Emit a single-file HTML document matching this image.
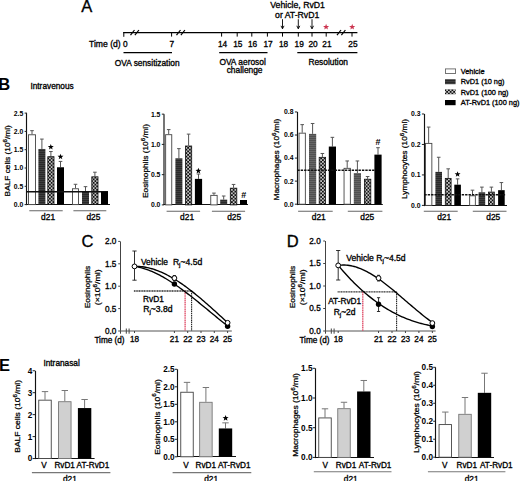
<!DOCTYPE html>
<html><head><meta charset="utf-8"><style>
html,body{margin:0;padding:0;background:#fff;}
svg{display:block;font-family:"Liberation Sans", sans-serif;}
</style></head><body>
<svg width="520" height="481" viewBox="0 0 520 481">
<defs>
<pattern id="hatch" width="4" height="2" patternUnits="userSpaceOnUse"><rect width="4" height="2" fill="#2a2a2a"/><rect y="1" width="4" height="0.9" fill="#424242"/></pattern>
<pattern id="check" width="3.5" height="3.5" patternUnits="userSpaceOnUse"><rect width="3.5" height="3.5" fill="#111"/><rect x="0.1" y="0.1" width="1.55" height="1.55" fill="#f0f0f0"/><rect x="1.85" y="1.85" width="1.55" height="1.55" fill="#f0f0f0"/></pattern>
<pattern id="hatch2" width="4" height="2" patternUnits="userSpaceOnUse"><rect width="4" height="2" fill="#505050"/><rect y="1" width="4" height="0.9" fill="#686868"/></pattern>
</defs>
<rect width="520" height="481" fill="#fff"/>
<text x="81.30" y="11.80" font-size="16.5" text-anchor="start" stroke="#000" stroke-width="0.32" fill="#000">A</text>
<line x1="123.30" y1="32.60" x2="357.40" y2="32.60" stroke="#000" stroke-width="1.2" stroke-linecap="butt"/>
<line x1="123.80" y1="32.00" x2="123.80" y2="36.80" stroke="#000" stroke-width="1.0" stroke-linecap="butt"/>
<line x1="171.60" y1="32.60" x2="171.60" y2="36.60" stroke="#000" stroke-width="1.0" stroke-linecap="butt"/>
<line x1="221.60" y1="32.60" x2="221.60" y2="36.60" stroke="#000" stroke-width="1.0" stroke-linecap="butt"/>
<line x1="237.20" y1="32.60" x2="237.20" y2="36.60" stroke="#000" stroke-width="1.0" stroke-linecap="butt"/>
<line x1="251.80" y1="32.60" x2="251.80" y2="36.60" stroke="#000" stroke-width="1.0" stroke-linecap="butt"/>
<line x1="267.40" y1="32.60" x2="267.40" y2="36.60" stroke="#000" stroke-width="1.0" stroke-linecap="butt"/>
<line x1="282.50" y1="32.60" x2="282.50" y2="36.60" stroke="#000" stroke-width="1.0" stroke-linecap="butt"/>
<line x1="298.30" y1="32.60" x2="298.30" y2="36.60" stroke="#000" stroke-width="1.0" stroke-linecap="butt"/>
<line x1="312.00" y1="32.60" x2="312.00" y2="36.60" stroke="#000" stroke-width="1.0" stroke-linecap="butt"/>
<line x1="326.20" y1="32.60" x2="326.20" y2="36.60" stroke="#000" stroke-width="1.0" stroke-linecap="butt"/>
<line x1="352.00" y1="32.60" x2="352.00" y2="36.60" stroke="#000" stroke-width="1.0" stroke-linecap="butt"/>
<line x1="130.50" y1="35.20" x2="134.50" y2="30.00" stroke="#000" stroke-width="1.2" stroke-linecap="butt"/>
<line x1="134.90" y1="35.20" x2="138.90" y2="30.00" stroke="#000" stroke-width="1.2" stroke-linecap="butt"/>
<line x1="176.50" y1="35.20" x2="180.50" y2="30.00" stroke="#000" stroke-width="1.2" stroke-linecap="butt"/>
<line x1="180.90" y1="35.20" x2="184.90" y2="30.00" stroke="#000" stroke-width="1.2" stroke-linecap="butt"/>
<line x1="337.00" y1="35.20" x2="341.00" y2="30.00" stroke="#000" stroke-width="1.2" stroke-linecap="butt"/>
<line x1="341.40" y1="35.20" x2="345.40" y2="30.00" stroke="#000" stroke-width="1.2" stroke-linecap="butt"/>
<text x="89.00" y="46.80" font-size="8.6" text-anchor="start" stroke="#000" stroke-width="0.32" fill="#000">Time (d)</text>
<text x="125.20" y="46.90" font-size="8.3" text-anchor="middle" stroke="#000" stroke-width="0.32" fill="#000">0</text>
<text x="171.80" y="46.90" font-size="8.3" text-anchor="middle" stroke="#000" stroke-width="0.32" fill="#000">7</text>
<text x="222.60" y="46.90" font-size="8.3" text-anchor="middle" stroke="#000" stroke-width="0.32" fill="#000">14</text>
<text x="237.80" y="46.90" font-size="8.3" text-anchor="middle" stroke="#000" stroke-width="0.32" fill="#000">15</text>
<text x="252.60" y="46.90" font-size="8.3" text-anchor="middle" stroke="#000" stroke-width="0.32" fill="#000">16</text>
<text x="268.00" y="46.90" font-size="8.3" text-anchor="middle" stroke="#000" stroke-width="0.32" fill="#000">17</text>
<text x="283.60" y="46.90" font-size="8.3" text-anchor="middle" stroke="#000" stroke-width="0.32" fill="#000">18</text>
<text x="299.20" y="46.90" font-size="8.3" text-anchor="middle" stroke="#000" stroke-width="0.32" fill="#000">19</text>
<text x="313.00" y="46.90" font-size="8.3" text-anchor="middle" stroke="#000" stroke-width="0.32" fill="#000">20</text>
<text x="326.90" y="46.90" font-size="8.3" text-anchor="middle" stroke="#000" stroke-width="0.32" fill="#000">21</text>
<text x="352.90" y="46.90" font-size="8.3" text-anchor="middle" stroke="#000" stroke-width="0.32" fill="#000">25</text>
<line x1="123.50" y1="52.70" x2="172.00" y2="52.70" stroke="#000" stroke-width="1.3" stroke-linecap="butt"/>
<line x1="219.20" y1="52.70" x2="267.50" y2="52.70" stroke="#000" stroke-width="1.3" stroke-linecap="butt"/>
<line x1="297.30" y1="52.70" x2="357.40" y2="52.70" stroke="#000" stroke-width="1.3" stroke-linecap="butt"/>
<text x="147.20" y="65.90" font-size="8.35" text-anchor="middle" stroke="#000" stroke-width="0.32" fill="#000">OVA sensitization</text>
<text x="242.60" y="65.40" font-size="8.4" text-anchor="middle" stroke="#000" stroke-width="0.32" fill="#000">OVA aerosol</text>
<text x="244.60" y="72.60" font-size="8.4" text-anchor="middle" stroke="#000" stroke-width="0.32" fill="#000">challenge</text>
<text x="328.20" y="64.90" font-size="8.4" text-anchor="middle" stroke="#000" stroke-width="0.32" fill="#000">Resolution</text>
<text x="297.60" y="7.70" font-size="8.7" text-anchor="middle" stroke="#000" stroke-width="0.32" fill="#000">Vehicle, RvD1</text>
<text x="297.20" y="17.80" font-size="8.7" text-anchor="middle" stroke="#000" stroke-width="0.32" fill="#000">or AT-RvD1</text>
<line x1="282.50" y1="19.20" x2="282.50" y2="28.60" stroke="#000" stroke-width="0.9" stroke-linecap="butt"/>
<polyline points="281.00,25.8 282.50,28.8 284.00,25.8" fill="none" stroke="#000" stroke-width="0.9"/>
<line x1="298.30" y1="19.20" x2="298.30" y2="28.60" stroke="#000" stroke-width="0.9" stroke-linecap="butt"/>
<polyline points="296.80,25.8 298.30,28.8 299.80,25.8" fill="none" stroke="#000" stroke-width="0.9"/>
<line x1="312.00" y1="19.20" x2="312.00" y2="28.60" stroke="#000" stroke-width="0.9" stroke-linecap="butt"/>
<polyline points="310.50,25.8 312.00,28.8 313.50,25.8" fill="none" stroke="#000" stroke-width="0.9"/>
<polygon points="326.10,23.80 326.89,25.91 329.14,26.01 327.38,27.42 327.98,29.59 326.10,28.34 324.22,29.59 324.82,27.42 323.06,26.01 325.31,25.91" fill="#cc3550"/>
<polygon points="352.20,23.80 352.99,25.91 355.24,26.01 353.48,27.42 354.08,29.59 352.20,28.34 350.32,29.59 350.92,27.42 349.16,26.01 351.41,25.91" fill="#cc3550"/>
<text x="-1.70" y="90.00" font-size="16.5" text-anchor="start" font-weight="bold" fill="#000">B</text>
<text x="30.40" y="89.20" font-size="8.3" text-anchor="start" stroke="#000" stroke-width="0.32" fill="#000">Intravenous</text>
<rect x="445.45" y="68.90" width="10.10" height="4.60" fill="#fff" stroke="#666" stroke-width="0.9"/>
<rect x="445.00" y="79.20" width="10.60" height="5.00" fill="url(#hatch)" stroke="none" stroke-width="0"/>
<rect x="445.00" y="89.30" width="10.60" height="5.00" fill="url(#check)" stroke="none" stroke-width="0"/>
<rect x="445.00" y="100.00" width="10.60" height="5.20" fill="#000" stroke="none" stroke-width="0"/>
<text x="460.80" y="73.90" font-size="7.35" text-anchor="start" stroke="#000" stroke-width="0.32" fill="#000">Vehicle</text>
<text x="460.80" y="84.40" font-size="7.35" text-anchor="start" stroke="#000" stroke-width="0.32" fill="#000">RvD1 (10 ng)</text>
<text x="460.80" y="94.60" font-size="7.35" text-anchor="start" stroke="#000" stroke-width="0.32" fill="#000">RvD1 (100 ng)</text>
<text x="460.80" y="105.20" font-size="7.35" text-anchor="start" stroke="#000" stroke-width="0.32" fill="#000">AT-RvD1 (100 ng)</text>
<line x1="26.50" y1="113.10" x2="26.50" y2="205.10" stroke="#111" stroke-width="1.15" stroke-linecap="butt"/>
<line x1="26.00" y1="204.50" x2="110.00" y2="204.50" stroke="#111" stroke-width="1.15" stroke-linecap="butt"/>
<line x1="24.60" y1="204.60" x2="27.00" y2="204.60" stroke="#222" stroke-width="1.0" stroke-linecap="butt"/>
<text x="23.20" y="207.00" font-size="6.8" text-anchor="end" font-weight="bold" fill="#000">0.0</text>
<line x1="24.60" y1="186.30" x2="27.00" y2="186.30" stroke="#222" stroke-width="1.0" stroke-linecap="butt"/>
<text x="23.20" y="188.70" font-size="6.8" text-anchor="end" font-weight="bold" fill="#000">0.5</text>
<line x1="24.60" y1="168.00" x2="27.00" y2="168.00" stroke="#222" stroke-width="1.0" stroke-linecap="butt"/>
<text x="23.20" y="170.40" font-size="6.8" text-anchor="end" font-weight="bold" fill="#000">1.0</text>
<line x1="24.60" y1="149.70" x2="27.00" y2="149.70" stroke="#222" stroke-width="1.0" stroke-linecap="butt"/>
<text x="23.20" y="152.10" font-size="6.8" text-anchor="end" font-weight="bold" fill="#000">1.5</text>
<line x1="24.60" y1="131.40" x2="27.00" y2="131.40" stroke="#222" stroke-width="1.0" stroke-linecap="butt"/>
<text x="23.20" y="133.80" font-size="6.8" text-anchor="end" font-weight="bold" fill="#000">2.0</text>
<line x1="24.60" y1="113.10" x2="27.00" y2="113.10" stroke="#222" stroke-width="1.0" stroke-linecap="butt"/>
<text x="23.20" y="115.50" font-size="6.8" text-anchor="end" font-weight="bold" fill="#000">2.5</text>
<line x1="32.00" y1="134.33" x2="32.00" y2="130.67" stroke="#555" stroke-width="1.0" stroke-linecap="butt"/>
<line x1="30.20" y1="130.67" x2="33.80" y2="130.67" stroke="#555" stroke-width="1.0" stroke-linecap="butt"/>
<rect x="28.50" y="134.78" width="7.00" height="69.82" fill="#fff" stroke="#444" stroke-width="0.9"/>
<line x1="41.90" y1="148.97" x2="41.90" y2="139.09" stroke="#555" stroke-width="1.0" stroke-linecap="butt"/>
<line x1="40.10" y1="139.09" x2="43.70" y2="139.09" stroke="#555" stroke-width="1.0" stroke-linecap="butt"/>
<rect x="38.40" y="148.97" width="7.00" height="55.63" fill="url(#hatch)" stroke="none" stroke-width="0"/>
<line x1="50.90" y1="156.29" x2="50.90" y2="151.53" stroke="#555" stroke-width="1.0" stroke-linecap="butt"/>
<line x1="49.10" y1="151.53" x2="52.70" y2="151.53" stroke="#555" stroke-width="1.0" stroke-linecap="butt"/>
<rect x="47.80" y="156.69" width="6.20" height="47.91" fill="url(#check)" stroke="#111" stroke-width="0.8"/>
<line x1="60.50" y1="167.27" x2="60.50" y2="161.41" stroke="#555" stroke-width="1.0" stroke-linecap="butt"/>
<line x1="58.70" y1="161.41" x2="62.30" y2="161.41" stroke="#555" stroke-width="1.0" stroke-linecap="butt"/>
<rect x="57.00" y="167.27" width="7.00" height="37.33" fill="#000" stroke="none" stroke-width="0"/>
<line x1="75.50" y1="188.31" x2="75.50" y2="184.29" stroke="#555" stroke-width="1.0" stroke-linecap="butt"/>
<line x1="73.70" y1="184.29" x2="77.30" y2="184.29" stroke="#555" stroke-width="1.0" stroke-linecap="butt"/>
<rect x="72.45" y="188.76" width="6.10" height="15.84" fill="#fff" stroke="#444" stroke-width="0.9"/>
<line x1="85.50" y1="191.79" x2="85.50" y2="186.67" stroke="#555" stroke-width="1.0" stroke-linecap="butt"/>
<line x1="83.70" y1="186.67" x2="87.30" y2="186.67" stroke="#555" stroke-width="1.0" stroke-linecap="butt"/>
<rect x="82.00" y="191.79" width="7.00" height="12.81" fill="url(#hatch)" stroke="none" stroke-width="0"/>
<line x1="94.90" y1="176.42" x2="94.90" y2="172.21" stroke="#555" stroke-width="1.0" stroke-linecap="butt"/>
<line x1="93.10" y1="172.21" x2="96.70" y2="172.21" stroke="#555" stroke-width="1.0" stroke-linecap="butt"/>
<rect x="91.80" y="176.82" width="6.20" height="27.78" fill="url(#check)" stroke="#111" stroke-width="0.8"/>
<rect x="101.00" y="191.06" width="7.00" height="13.54" fill="#000" stroke="none" stroke-width="0"/>
<line x1="27.00" y1="191.79" x2="101.00" y2="191.79" stroke="#111" stroke-width="1.4" stroke-linecap="butt"/>
<line x1="29.30" y1="210.80" x2="62.70" y2="210.80" stroke="#666" stroke-width="1.1" stroke-linecap="butt"/>
<text x="48.10" y="219.60" font-size="8.4" text-anchor="middle" stroke="#000" stroke-width="0.32" fill="#000">d21</text>
<line x1="73.40" y1="210.80" x2="106.30" y2="210.80" stroke="#666" stroke-width="1.1" stroke-linecap="butt"/>
<text x="93.40" y="219.60" font-size="8.4" text-anchor="middle" stroke="#000" stroke-width="0.32" fill="#000">d25</text>
<polygon points="50.80,143.90 51.57,145.95 53.75,146.04 52.04,147.40 52.62,149.51 50.80,148.30 48.98,149.51 49.56,147.40 47.85,146.04 50.03,145.95" fill="#000"/>
<polygon points="60.50,153.70 61.27,155.75 63.45,155.84 61.74,157.20 62.32,159.31 60.50,158.10 58.68,159.31 59.26,157.20 57.55,155.84 59.73,155.75" fill="#000"/>
<text x="0" y="0" font-size="8.3" text-anchor="middle" stroke="#000" stroke-width="0.28" transform="translate(9.50 160.80) rotate(-90) scale(1 0.86)">BALF cells (10<tspan font-size="6.14" dy="-3.49">6</tspan><tspan dy="3.49">/ml)</tspan></text>
<line x1="164.00" y1="114.15" x2="164.00" y2="205.10" stroke="#111" stroke-width="1.15" stroke-linecap="butt"/>
<line x1="163.50" y1="204.50" x2="248.00" y2="204.50" stroke="#111" stroke-width="1.15" stroke-linecap="butt"/>
<line x1="161.80" y1="204.90" x2="164.20" y2="204.90" stroke="#222" stroke-width="1.0" stroke-linecap="butt"/>
<text x="160.40" y="207.30" font-size="6.8" text-anchor="end" font-weight="bold" fill="#000">0.0</text>
<line x1="161.80" y1="174.65" x2="164.20" y2="174.65" stroke="#222" stroke-width="1.0" stroke-linecap="butt"/>
<text x="160.40" y="177.05" font-size="6.8" text-anchor="end" font-weight="bold" fill="#000">0.5</text>
<line x1="161.80" y1="144.40" x2="164.20" y2="144.40" stroke="#222" stroke-width="1.0" stroke-linecap="butt"/>
<text x="160.40" y="146.80" font-size="6.8" text-anchor="end" font-weight="bold" fill="#000">1.0</text>
<line x1="161.80" y1="114.15" x2="164.20" y2="114.15" stroke="#222" stroke-width="1.0" stroke-linecap="butt"/>
<text x="160.40" y="116.55" font-size="6.8" text-anchor="end" font-weight="bold" fill="#000">1.5</text>
<line x1="168.70" y1="134.24" x2="168.70" y2="129.58" stroke="#555" stroke-width="1.0" stroke-linecap="butt"/>
<line x1="166.90" y1="129.58" x2="170.50" y2="129.58" stroke="#555" stroke-width="1.0" stroke-linecap="butt"/>
<rect x="165.65" y="134.69" width="6.10" height="70.21" fill="#fff" stroke="#444" stroke-width="0.9"/>
<line x1="178.90" y1="158.31" x2="178.90" y2="148.63" stroke="#555" stroke-width="1.0" stroke-linecap="butt"/>
<line x1="177.10" y1="148.63" x2="180.70" y2="148.63" stroke="#555" stroke-width="1.0" stroke-linecap="butt"/>
<rect x="175.40" y="158.31" width="7.00" height="46.59" fill="url(#hatch)" stroke="none" stroke-width="0"/>
<line x1="188.60" y1="145.61" x2="188.60" y2="134.12" stroke="#555" stroke-width="1.0" stroke-linecap="butt"/>
<line x1="186.80" y1="134.12" x2="190.40" y2="134.12" stroke="#555" stroke-width="1.0" stroke-linecap="butt"/>
<rect x="185.50" y="146.01" width="6.20" height="58.89" fill="url(#check)" stroke="#111" stroke-width="0.8"/>
<line x1="198.50" y1="178.88" x2="198.50" y2="174.05" stroke="#555" stroke-width="1.0" stroke-linecap="butt"/>
<line x1="196.70" y1="174.05" x2="200.30" y2="174.05" stroke="#555" stroke-width="1.0" stroke-linecap="butt"/>
<rect x="194.90" y="178.88" width="7.20" height="26.02" fill="#000" stroke="none" stroke-width="0"/>
<line x1="213.95" y1="194.92" x2="213.95" y2="193.10" stroke="#555" stroke-width="1.0" stroke-linecap="butt"/>
<line x1="212.15" y1="193.10" x2="215.75" y2="193.10" stroke="#555" stroke-width="1.0" stroke-linecap="butt"/>
<rect x="210.75" y="195.37" width="6.40" height="9.53" fill="#fff" stroke="#444" stroke-width="0.9"/>
<line x1="223.70" y1="199.64" x2="223.70" y2="196.01" stroke="#555" stroke-width="1.0" stroke-linecap="butt"/>
<line x1="221.90" y1="196.01" x2="225.50" y2="196.01" stroke="#555" stroke-width="1.0" stroke-linecap="butt"/>
<rect x="220.20" y="199.64" width="7.00" height="5.26" fill="url(#hatch)" stroke="none" stroke-width="0"/>
<line x1="233.55" y1="187.78" x2="233.55" y2="184.45" stroke="#555" stroke-width="1.0" stroke-linecap="butt"/>
<line x1="231.75" y1="184.45" x2="235.35" y2="184.45" stroke="#555" stroke-width="1.0" stroke-linecap="butt"/>
<rect x="230.30" y="188.18" width="6.50" height="16.72" fill="url(#check)" stroke="#111" stroke-width="0.8"/>
<rect x="240.00" y="200.00" width="7.00" height="4.90" fill="#000" stroke="none" stroke-width="0"/>
<line x1="166.60" y1="211.20" x2="200.10" y2="211.20" stroke="#666" stroke-width="1.1" stroke-linecap="butt"/>
<text x="187.10" y="219.60" font-size="8.4" text-anchor="middle" stroke="#000" stroke-width="0.32" fill="#000">d21</text>
<line x1="211.90" y1="211.20" x2="245.10" y2="211.20" stroke="#666" stroke-width="1.1" stroke-linecap="butt"/>
<text x="234.20" y="219.60" font-size="8.4" text-anchor="middle" stroke="#000" stroke-width="0.32" fill="#000">d25</text>
<polygon points="198.40,167.80 199.17,169.85 201.35,169.94 199.64,171.30 200.22,173.41 198.40,172.20 196.58,173.41 197.16,171.30 195.45,169.94 197.63,169.85" fill="#000"/>
<text x="243.70" y="198.00" font-size="9.0" text-anchor="middle" font-weight="bold" fill="#000">#</text>
<text x="0" y="0" font-size="8.3" text-anchor="middle" stroke="#000" stroke-width="0.28" transform="translate(147.90 161.00) rotate(-90) scale(1 0.86)">Eosinophils (10<tspan font-size="6.14" dy="-3.49">6</tspan><tspan dy="3.49">/ml)</tspan></text>
<line x1="297.50" y1="111.96" x2="297.50" y2="205.10" stroke="#111" stroke-width="1.15" stroke-linecap="butt"/>
<line x1="297.00" y1="204.50" x2="382.80" y2="204.50" stroke="#111" stroke-width="1.15" stroke-linecap="butt"/>
<line x1="294.90" y1="204.20" x2="297.30" y2="204.20" stroke="#222" stroke-width="1.0" stroke-linecap="butt"/>
<text x="293.50" y="206.60" font-size="6.8" text-anchor="end" font-weight="bold" fill="#000">0.0</text>
<line x1="294.90" y1="181.14" x2="297.30" y2="181.14" stroke="#222" stroke-width="1.0" stroke-linecap="butt"/>
<text x="293.50" y="183.54" font-size="6.8" text-anchor="end" font-weight="bold" fill="#000">0.2</text>
<line x1="294.90" y1="158.08" x2="297.30" y2="158.08" stroke="#222" stroke-width="1.0" stroke-linecap="butt"/>
<text x="293.50" y="160.48" font-size="6.8" text-anchor="end" font-weight="bold" fill="#000">0.4</text>
<line x1="294.90" y1="135.02" x2="297.30" y2="135.02" stroke="#222" stroke-width="1.0" stroke-linecap="butt"/>
<text x="293.50" y="137.42" font-size="6.8" text-anchor="end" font-weight="bold" fill="#000">0.6</text>
<line x1="294.90" y1="111.96" x2="297.30" y2="111.96" stroke="#222" stroke-width="1.0" stroke-linecap="butt"/>
<text x="293.50" y="114.36" font-size="6.8" text-anchor="end" font-weight="bold" fill="#000">0.8</text>
<line x1="302.20" y1="132.71" x2="302.20" y2="124.64" stroke="#555" stroke-width="1.0" stroke-linecap="butt"/>
<line x1="300.40" y1="124.64" x2="304.00" y2="124.64" stroke="#555" stroke-width="1.0" stroke-linecap="butt"/>
<rect x="299.05" y="133.16" width="6.30" height="71.04" fill="#fff" stroke="#444" stroke-width="0.9"/>
<line x1="312.60" y1="133.87" x2="312.60" y2="123.49" stroke="#555" stroke-width="1.0" stroke-linecap="butt"/>
<line x1="310.80" y1="123.49" x2="314.40" y2="123.49" stroke="#555" stroke-width="1.0" stroke-linecap="butt"/>
<rect x="309.00" y="133.87" width="7.20" height="70.33" fill="url(#hatch2)" stroke="none" stroke-width="0"/>
<line x1="322.40" y1="156.93" x2="322.40" y2="153.47" stroke="#555" stroke-width="1.0" stroke-linecap="butt"/>
<line x1="320.60" y1="153.47" x2="324.20" y2="153.47" stroke="#555" stroke-width="1.0" stroke-linecap="butt"/>
<rect x="319.20" y="157.33" width="6.40" height="46.87" fill="url(#check)" stroke="#111" stroke-width="0.8"/>
<line x1="332.40" y1="146.55" x2="332.40" y2="137.33" stroke="#555" stroke-width="1.0" stroke-linecap="butt"/>
<line x1="330.60" y1="137.33" x2="334.20" y2="137.33" stroke="#555" stroke-width="1.0" stroke-linecap="butt"/>
<rect x="328.80" y="146.55" width="7.20" height="57.65" fill="#000" stroke="none" stroke-width="0"/>
<line x1="347.20" y1="167.88" x2="347.20" y2="160.96" stroke="#555" stroke-width="1.0" stroke-linecap="butt"/>
<line x1="345.40" y1="160.96" x2="349.00" y2="160.96" stroke="#555" stroke-width="1.0" stroke-linecap="butt"/>
<rect x="344.05" y="168.33" width="6.30" height="35.87" fill="#fff" stroke="#444" stroke-width="0.9"/>
<line x1="357.40" y1="173.07" x2="357.40" y2="160.96" stroke="#555" stroke-width="1.0" stroke-linecap="butt"/>
<line x1="355.60" y1="160.96" x2="359.20" y2="160.96" stroke="#555" stroke-width="1.0" stroke-linecap="butt"/>
<rect x="353.80" y="173.07" width="7.20" height="31.13" fill="url(#hatch2)" stroke="none" stroke-width="0"/>
<line x1="367.60" y1="178.83" x2="367.60" y2="176.53" stroke="#555" stroke-width="1.0" stroke-linecap="butt"/>
<line x1="365.80" y1="176.53" x2="369.40" y2="176.53" stroke="#555" stroke-width="1.0" stroke-linecap="butt"/>
<rect x="364.40" y="179.23" width="6.40" height="24.97" fill="url(#check)" stroke="#111" stroke-width="0.8"/>
<line x1="378.00" y1="154.62" x2="378.00" y2="147.70" stroke="#555" stroke-width="1.0" stroke-linecap="butt"/>
<line x1="376.20" y1="147.70" x2="379.80" y2="147.70" stroke="#555" stroke-width="1.0" stroke-linecap="butt"/>
<rect x="374.40" y="154.62" width="7.20" height="49.58" fill="#000" stroke="none" stroke-width="0"/>
<line x1="297.30" y1="170.19" x2="374.40" y2="170.19" stroke="#111" stroke-width="1.4" stroke-linecap="butt" stroke-dasharray="2.4,1.0"/>
<line x1="298.10" y1="211.20" x2="332.70" y2="211.20" stroke="#666" stroke-width="1.1" stroke-linecap="butt"/>
<text x="318.80" y="219.60" font-size="8.4" text-anchor="middle" stroke="#000" stroke-width="0.32" fill="#000">d21</text>
<line x1="347.80" y1="211.20" x2="382.40" y2="211.20" stroke="#666" stroke-width="1.1" stroke-linecap="butt"/>
<text x="367.30" y="219.60" font-size="8.4" text-anchor="middle" stroke="#000" stroke-width="0.32" fill="#000">d25</text>
<text x="378.00" y="145.00" font-size="9.0" text-anchor="middle" font-weight="bold" fill="#000">#</text>
<text x="0" y="0" font-size="8.3" text-anchor="middle" stroke="#000" stroke-width="0.28" transform="translate(279.10 159.60) rotate(-90) scale(1 0.86)">Macrophages (10<tspan font-size="6.14" dy="-3.49">6</tspan><tspan dy="3.49">/ml)</tspan></text>
<line x1="424.50" y1="113.99" x2="424.50" y2="206.10" stroke="#111" stroke-width="1.15" stroke-linecap="butt"/>
<line x1="424.00" y1="205.50" x2="507.00" y2="205.50" stroke="#111" stroke-width="1.15" stroke-linecap="butt"/>
<line x1="421.90" y1="205.40" x2="424.30" y2="205.40" stroke="#222" stroke-width="1.0" stroke-linecap="butt"/>
<text x="420.50" y="207.80" font-size="6.8" text-anchor="end" font-weight="bold" fill="#000">0.0</text>
<line x1="421.90" y1="174.93" x2="424.30" y2="174.93" stroke="#222" stroke-width="1.0" stroke-linecap="butt"/>
<text x="420.50" y="177.33" font-size="6.8" text-anchor="end" font-weight="bold" fill="#000">0.1</text>
<line x1="421.90" y1="144.46" x2="424.30" y2="144.46" stroke="#222" stroke-width="1.0" stroke-linecap="butt"/>
<text x="420.50" y="146.86" font-size="6.8" text-anchor="end" font-weight="bold" fill="#000">0.2</text>
<line x1="421.90" y1="113.99" x2="424.30" y2="113.99" stroke="#222" stroke-width="1.0" stroke-linecap="butt"/>
<text x="420.50" y="116.39" font-size="6.8" text-anchor="end" font-weight="bold" fill="#000">0.3</text>
<line x1="428.65" y1="142.94" x2="428.65" y2="127.09" stroke="#555" stroke-width="1.0" stroke-linecap="butt"/>
<line x1="426.85" y1="127.09" x2="430.45" y2="127.09" stroke="#555" stroke-width="1.0" stroke-linecap="butt"/>
<rect x="425.45" y="143.39" width="6.40" height="62.01" fill="#fff" stroke="#444" stroke-width="0.9"/>
<line x1="438.70" y1="171.88" x2="438.70" y2="157.26" stroke="#555" stroke-width="1.0" stroke-linecap="butt"/>
<line x1="436.90" y1="157.26" x2="440.50" y2="157.26" stroke="#555" stroke-width="1.0" stroke-linecap="butt"/>
<rect x="435.40" y="171.88" width="6.60" height="33.52" fill="url(#hatch)" stroke="none" stroke-width="0"/>
<line x1="448.20" y1="177.98" x2="448.20" y2="168.84" stroke="#555" stroke-width="1.0" stroke-linecap="butt"/>
<line x1="446.40" y1="168.84" x2="450.00" y2="168.84" stroke="#555" stroke-width="1.0" stroke-linecap="butt"/>
<rect x="445.30" y="178.38" width="5.80" height="27.02" fill="url(#check)" stroke="#111" stroke-width="0.8"/>
<line x1="457.60" y1="184.68" x2="457.60" y2="178.89" stroke="#555" stroke-width="1.0" stroke-linecap="butt"/>
<line x1="455.80" y1="178.89" x2="459.40" y2="178.89" stroke="#555" stroke-width="1.0" stroke-linecap="butt"/>
<rect x="454.30" y="184.68" width="6.60" height="20.72" fill="#000" stroke="none" stroke-width="0"/>
<line x1="472.50" y1="195.34" x2="472.50" y2="190.17" stroke="#555" stroke-width="1.0" stroke-linecap="butt"/>
<line x1="470.70" y1="190.17" x2="474.30" y2="190.17" stroke="#555" stroke-width="1.0" stroke-linecap="butt"/>
<rect x="469.65" y="195.79" width="5.70" height="9.61" fill="#fff" stroke="#444" stroke-width="0.9"/>
<line x1="481.90" y1="192.30" x2="481.90" y2="187.12" stroke="#555" stroke-width="1.0" stroke-linecap="butt"/>
<line x1="480.10" y1="187.12" x2="483.70" y2="187.12" stroke="#555" stroke-width="1.0" stroke-linecap="butt"/>
<rect x="478.60" y="192.30" width="6.60" height="13.10" fill="url(#hatch)" stroke="none" stroke-width="0"/>
<line x1="491.40" y1="191.69" x2="491.40" y2="187.12" stroke="#555" stroke-width="1.0" stroke-linecap="butt"/>
<line x1="489.60" y1="187.12" x2="493.20" y2="187.12" stroke="#555" stroke-width="1.0" stroke-linecap="butt"/>
<rect x="488.50" y="192.09" width="5.80" height="13.31" fill="url(#check)" stroke="#111" stroke-width="0.8"/>
<line x1="501.40" y1="190.17" x2="501.40" y2="182.55" stroke="#555" stroke-width="1.0" stroke-linecap="butt"/>
<line x1="499.60" y1="182.55" x2="503.20" y2="182.55" stroke="#555" stroke-width="1.0" stroke-linecap="butt"/>
<rect x="498.10" y="190.17" width="6.60" height="15.23" fill="#000" stroke="none" stroke-width="0"/>
<line x1="424.30" y1="194.74" x2="506.00" y2="194.74" stroke="#111" stroke-width="1.4" stroke-linecap="butt" stroke-dasharray="2.4,1.0"/>
<line x1="423.80" y1="211.20" x2="457.70" y2="211.20" stroke="#666" stroke-width="1.1" stroke-linecap="butt"/>
<text x="444.20" y="219.60" font-size="8.4" text-anchor="middle" stroke="#000" stroke-width="0.32" fill="#000">d21</text>
<line x1="472.80" y1="211.20" x2="506.50" y2="211.20" stroke="#666" stroke-width="1.1" stroke-linecap="butt"/>
<text x="493.30" y="219.60" font-size="8.4" text-anchor="middle" stroke="#000" stroke-width="0.32" fill="#000">d25</text>
<polygon points="457.60,171.20 458.37,173.25 460.55,173.34 458.84,174.70 459.42,176.81 457.60,175.60 455.78,176.81 456.36,174.70 454.65,173.34 456.83,173.25" fill="#000"/>
<text x="0" y="0" font-size="8.3" text-anchor="middle" stroke="#000" stroke-width="0.28" transform="translate(407.10 159.00) rotate(-90) scale(1 0.86)">Lymphocytes (10<tspan font-size="6.14" dy="-3.49">6</tspan><tspan dy="3.49">/ml)</tspan></text>
<text x="81.40" y="246.70" font-size="16.5" text-anchor="start" stroke="#000" stroke-width="0.32" fill="#000">C</text>
<line x1="120.50" y1="241.40" x2="120.50" y2="333.70" stroke="#444" stroke-width="1.05" stroke-linecap="butt"/>
<line x1="120.00" y1="331.00" x2="231.80" y2="331.00" stroke="#555" stroke-width="1.0" stroke-linecap="butt"/>
<line x1="118.20" y1="331.00" x2="120.00" y2="331.00" stroke="#444" stroke-width="1.0" stroke-linecap="butt"/>
<text x="116.40" y="333.90" font-size="8.2" text-anchor="end" stroke="#000" stroke-width="0.32" fill="#000">0.0</text>
<line x1="118.20" y1="308.60" x2="120.00" y2="308.60" stroke="#444" stroke-width="1.0" stroke-linecap="butt"/>
<text x="116.40" y="311.50" font-size="8.2" text-anchor="end" stroke="#000" stroke-width="0.32" fill="#000">0.5</text>
<line x1="118.20" y1="286.20" x2="120.00" y2="286.20" stroke="#444" stroke-width="1.0" stroke-linecap="butt"/>
<text x="116.40" y="289.10" font-size="8.2" text-anchor="end" stroke="#000" stroke-width="0.32" fill="#000">1.0</text>
<line x1="118.20" y1="263.80" x2="120.00" y2="263.80" stroke="#444" stroke-width="1.0" stroke-linecap="butt"/>
<text x="116.40" y="266.70" font-size="8.2" text-anchor="end" stroke="#000" stroke-width="0.32" fill="#000">1.5</text>
<line x1="118.20" y1="241.40" x2="120.00" y2="241.40" stroke="#444" stroke-width="1.0" stroke-linecap="butt"/>
<text x="116.40" y="244.30" font-size="8.2" text-anchor="end" stroke="#000" stroke-width="0.32" fill="#000">2.0</text>
<line x1="126.30" y1="328.50" x2="126.30" y2="333.70" stroke="#444" stroke-width="1.0" stroke-linecap="butt"/>
<line x1="129.10" y1="328.50" x2="129.10" y2="333.70" stroke="#444" stroke-width="1.0" stroke-linecap="butt"/>
<line x1="134.50" y1="331.00" x2="134.50" y2="333.00" stroke="#444" stroke-width="1.0" stroke-linecap="butt"/>
<text x="134.50" y="342.30" font-size="8.2" text-anchor="middle" stroke="#000" stroke-width="0.32" fill="#000">18</text>
<line x1="174.40" y1="331.00" x2="174.40" y2="333.00" stroke="#444" stroke-width="1.0" stroke-linecap="butt"/>
<text x="174.40" y="342.30" font-size="8.2" text-anchor="middle" stroke="#000" stroke-width="0.32" fill="#000">21</text>
<line x1="187.70" y1="331.00" x2="187.70" y2="333.00" stroke="#444" stroke-width="1.0" stroke-linecap="butt"/>
<text x="187.70" y="342.30" font-size="8.2" text-anchor="middle" stroke="#000" stroke-width="0.32" fill="#000">22</text>
<line x1="201.00" y1="331.00" x2="201.00" y2="333.00" stroke="#444" stroke-width="1.0" stroke-linecap="butt"/>
<text x="201.00" y="342.30" font-size="8.2" text-anchor="middle" stroke="#000" stroke-width="0.32" fill="#000">23</text>
<line x1="214.30" y1="331.00" x2="214.30" y2="333.00" stroke="#444" stroke-width="1.0" stroke-linecap="butt"/>
<text x="214.30" y="342.30" font-size="8.2" text-anchor="middle" stroke="#000" stroke-width="0.32" fill="#000">24</text>
<line x1="227.60" y1="331.00" x2="227.60" y2="333.00" stroke="#444" stroke-width="1.0" stroke-linecap="butt"/>
<text x="227.60" y="342.30" font-size="8.2" text-anchor="middle" stroke="#000" stroke-width="0.32" fill="#000">25</text>
<text x="124.60" y="342.80" font-size="8.2" text-anchor="end" stroke="#000" stroke-width="0.32" fill="#000">Time (d)</text>
<text x="0" y="0" font-size="8.3" text-anchor="middle" stroke="#000" stroke-width="0.28" transform="translate(90.00 287.00) rotate(-90) scale(1 0.86)">Eosinophils</text>
<text x="0" y="0" font-size="8.8" text-anchor="middle" stroke="#000" stroke-width="0.28" transform="translate(100.40 287.30) rotate(-90) scale(1 0.86)">(×10<tspan font-size="6.4" dy="-3.4">6</tspan><tspan dy="3.4">/ml)</tspan></text>
<line x1="133.90" y1="291.00" x2="191.80" y2="291.00" stroke="#333" stroke-width="1.3" stroke-linecap="butt" stroke-dasharray="1.2,0.45"/>
<line x1="185.10" y1="290.80" x2="185.10" y2="331.00" stroke="#dc3a58" stroke-width="1.2" stroke-linecap="butt" stroke-dasharray="1.6,0.6"/>
<line x1="191.60" y1="290.80" x2="191.60" y2="331.00" stroke="#222" stroke-width="1.1" stroke-linecap="butt" stroke-dasharray="1.5,0.7"/>
<polyline points="134.50,266.42 136.08,266.39 137.66,266.42 139.23,266.49 140.81,266.61 142.39,266.78 143.97,267.00 145.55,267.26 147.12,267.57 148.70,267.92 150.28,268.31 151.86,268.75 153.44,269.22 155.01,269.74 156.59,270.30 158.17,270.90 159.75,271.53 161.33,272.20 162.90,272.91 164.48,273.65 166.06,274.43 167.64,275.24 169.22,276.09 170.79,276.97 172.37,277.87 173.95,278.81 175.53,279.78 177.11,280.78 178.68,281.80 180.26,282.85 181.84,283.93 183.42,285.03 184.99,286.16 186.57,287.31 188.15,288.49 189.73,289.68 191.31,290.90 192.88,292.13 194.46,293.39 196.04,294.66 197.62,295.96 199.20,297.26 200.77,298.59 202.35,299.93 203.93,301.28 205.51,302.65 207.09,304.03 208.66,305.42 210.24,306.82 211.82,308.23 213.40,309.66 214.98,311.08 216.55,312.52 218.13,313.96 219.71,315.41 221.29,316.87 222.87,318.32 224.44,319.79 226.02,321.25 227.60,322.71" fill="none" stroke="#000" stroke-width="1.35"/>
<polyline points="134.50,266.41 136.08,266.66 137.66,266.95 139.23,267.29 140.81,267.67 142.39,268.10 143.97,268.56 145.55,269.06 147.12,269.60 148.70,270.18 150.28,270.80 151.86,271.45 153.44,272.13 155.01,272.85 156.59,273.61 158.17,274.39 159.75,275.21 161.33,276.05 162.90,276.93 164.48,277.83 166.06,278.76 167.64,279.72 169.22,280.70 170.79,281.71 172.37,282.74 173.95,283.79 175.53,284.86 177.11,285.95 178.68,287.07 180.26,288.20 181.84,289.35 183.42,290.51 184.99,291.69 186.57,292.89 188.15,294.10 189.73,295.32 191.31,296.56 192.88,297.80 194.46,299.06 196.04,300.32 197.62,301.59 199.20,302.87 200.77,304.16 202.35,305.45 203.93,306.74 205.51,308.04 207.09,309.34 208.66,310.64 210.24,311.94 211.82,313.24 213.40,314.54 214.98,315.84 216.55,317.13 218.13,318.42 219.71,319.70 221.29,320.98 222.87,322.25 224.44,323.51 226.02,324.76 227.60,326.01" fill="none" stroke="#000" stroke-width="1.35"/>
<line x1="134.50" y1="251.00" x2="134.50" y2="280.20" stroke="#1a1a1a" stroke-width="0.9" stroke-linecap="butt"/>
<line x1="132.40" y1="251.00" x2="136.60" y2="251.00" stroke="#1a1a1a" stroke-width="0.9" stroke-linecap="butt"/>
<line x1="132.40" y1="280.20" x2="136.60" y2="280.20" stroke="#1a1a1a" stroke-width="0.9" stroke-linecap="butt"/>
<line x1="174.40" y1="275.60" x2="174.40" y2="280.60" stroke="#1a1a1a" stroke-width="0.9" stroke-linecap="butt"/>
<line x1="172.90" y1="275.60" x2="175.90" y2="275.60" stroke="#1a1a1a" stroke-width="0.9" stroke-linecap="butt"/>
<line x1="172.90" y1="280.60" x2="175.90" y2="280.60" stroke="#1a1a1a" stroke-width="0.9" stroke-linecap="butt"/>
<circle cx="134.50" cy="266.40" r="2.4" fill="#fff" stroke="#000" stroke-width="1.0"/>
<circle cx="174.40" cy="284.00" r="2.6999999999999997" fill="#000"/>
<circle cx="174.40" cy="278.10" r="2.4" fill="#fff" stroke="#000" stroke-width="1.0"/>
<circle cx="227.60" cy="326.20" r="2.6999999999999997" fill="#000"/>
<circle cx="227.60" cy="322.80" r="2.4" fill="#fff" stroke="#000" stroke-width="1.0"/>
<text x="141.00" y="264.90" font-size="8.4" text-anchor="start" stroke="#000" stroke-width="0.32" fill="#000">Vehicle</text>
<text x="172.90" y="264.90" font-size="8.6" text-anchor="start" stroke="#000" stroke-width="0.32" fill="#000">R<tspan font-size="6.2" dy="1.8">j</tspan><tspan dy="-1.8">~4.5d</tspan></text>
<text x="143.00" y="301.80" font-size="8.3" text-anchor="start" stroke="#000" stroke-width="0.32" fill="#000">RvD1</text>
<text x="143.20" y="312.40" font-size="8.6" text-anchor="start" stroke="#000" stroke-width="0.32" fill="#000">R<tspan font-size="6.2" dy="1.8">j</tspan><tspan dy="-1.8">~3.8d</tspan></text>
<text x="286.80" y="247.00" font-size="16.5" text-anchor="start" stroke="#000" stroke-width="0.32" fill="#000">D</text>
<line x1="325.50" y1="241.00" x2="325.50" y2="333.70" stroke="#444" stroke-width="1.05" stroke-linecap="butt"/>
<line x1="325.00" y1="331.00" x2="435.60" y2="331.00" stroke="#555" stroke-width="1.0" stroke-linecap="butt"/>
<line x1="323.20" y1="331.00" x2="325.00" y2="331.00" stroke="#444" stroke-width="1.0" stroke-linecap="butt"/>
<text x="320.70" y="333.90" font-size="8.2" text-anchor="end" stroke="#000" stroke-width="0.32" fill="#000">0.0</text>
<line x1="323.20" y1="308.50" x2="325.00" y2="308.50" stroke="#444" stroke-width="1.0" stroke-linecap="butt"/>
<text x="320.70" y="311.40" font-size="8.2" text-anchor="end" stroke="#000" stroke-width="0.32" fill="#000">0.5</text>
<line x1="323.20" y1="286.00" x2="325.00" y2="286.00" stroke="#444" stroke-width="1.0" stroke-linecap="butt"/>
<text x="320.70" y="288.90" font-size="8.2" text-anchor="end" stroke="#000" stroke-width="0.32" fill="#000">1.0</text>
<line x1="323.20" y1="263.50" x2="325.00" y2="263.50" stroke="#444" stroke-width="1.0" stroke-linecap="butt"/>
<text x="320.70" y="266.40" font-size="8.2" text-anchor="end" stroke="#000" stroke-width="0.32" fill="#000">1.5</text>
<line x1="323.20" y1="241.00" x2="325.00" y2="241.00" stroke="#444" stroke-width="1.0" stroke-linecap="butt"/>
<text x="320.70" y="243.90" font-size="8.2" text-anchor="end" stroke="#000" stroke-width="0.32" fill="#000">2.0</text>
<line x1="331.30" y1="328.50" x2="331.30" y2="333.70" stroke="#444" stroke-width="1.0" stroke-linecap="butt"/>
<line x1="334.10" y1="328.50" x2="334.10" y2="333.70" stroke="#444" stroke-width="1.0" stroke-linecap="butt"/>
<line x1="338.20" y1="331.00" x2="338.20" y2="333.00" stroke="#444" stroke-width="1.0" stroke-linecap="butt"/>
<text x="338.20" y="342.30" font-size="8.2" text-anchor="middle" stroke="#000" stroke-width="0.32" fill="#000">18</text>
<line x1="378.55" y1="331.00" x2="378.55" y2="333.00" stroke="#444" stroke-width="1.0" stroke-linecap="butt"/>
<text x="378.55" y="342.30" font-size="8.2" text-anchor="middle" stroke="#000" stroke-width="0.32" fill="#000">21</text>
<line x1="392.00" y1="331.00" x2="392.00" y2="333.00" stroke="#444" stroke-width="1.0" stroke-linecap="butt"/>
<text x="392.00" y="342.30" font-size="8.2" text-anchor="middle" stroke="#000" stroke-width="0.32" fill="#000">22</text>
<line x1="405.45" y1="331.00" x2="405.45" y2="333.00" stroke="#444" stroke-width="1.0" stroke-linecap="butt"/>
<text x="405.45" y="342.30" font-size="8.2" text-anchor="middle" stroke="#000" stroke-width="0.32" fill="#000">23</text>
<line x1="418.90" y1="331.00" x2="418.90" y2="333.00" stroke="#444" stroke-width="1.0" stroke-linecap="butt"/>
<text x="418.90" y="342.30" font-size="8.2" text-anchor="middle" stroke="#000" stroke-width="0.32" fill="#000">24</text>
<line x1="432.35" y1="331.00" x2="432.35" y2="333.00" stroke="#444" stroke-width="1.0" stroke-linecap="butt"/>
<text x="432.35" y="342.30" font-size="8.2" text-anchor="middle" stroke="#000" stroke-width="0.32" fill="#000">25</text>
<text x="329.60" y="342.80" font-size="8.2" text-anchor="end" stroke="#000" stroke-width="0.32" fill="#000">Time (d)</text>
<text x="0" y="0" font-size="8.3" text-anchor="middle" stroke="#000" stroke-width="0.28" transform="translate(295.00 287.00) rotate(-90) scale(1 0.86)">Eosinophils</text>
<text x="0" y="0" font-size="8.8" text-anchor="middle" stroke="#000" stroke-width="0.28" transform="translate(305.40 287.30) rotate(-90) scale(1 0.86)">(×10<tspan font-size="6.4" dy="-3.4">6</tspan><tspan dy="3.4">/ml)</tspan></text>
<line x1="337.60" y1="291.80" x2="396.60" y2="291.80" stroke="#333" stroke-width="1.3" stroke-linecap="butt" stroke-dasharray="1.2,0.45"/>
<line x1="362.80" y1="291.80" x2="362.80" y2="331.00" stroke="#dc3a58" stroke-width="1.2" stroke-linecap="butt" stroke-dasharray="1.6,0.6"/>
<line x1="396.60" y1="291.80" x2="396.60" y2="331.00" stroke="#222" stroke-width="1.1" stroke-linecap="butt" stroke-dasharray="1.5,0.7"/>
<polyline points="338.20,265.42 339.80,265.22 341.39,265.09 342.99,265.03 344.58,265.04 346.18,265.12 347.77,265.27 349.37,265.49 350.97,265.77 352.56,266.11 354.16,266.51 355.75,266.97 357.35,267.49 358.94,268.06 360.54,268.69 362.14,269.36 363.73,270.09 365.33,270.86 366.92,271.68 368.52,272.55 370.12,273.45 371.71,274.40 373.31,275.38 374.90,276.40 376.50,277.46 378.09,278.55 379.69,279.67 381.29,280.82 382.88,282.00 384.48,283.20 386.07,284.43 387.67,285.68 389.26,286.95 390.86,288.24 392.46,289.55 394.05,290.87 395.65,292.20 397.24,293.55 398.84,294.90 400.43,296.27 402.03,297.64 403.63,299.01 405.22,300.39 406.82,301.77 408.41,303.14 410.01,304.52 411.61,305.88 413.20,307.25 414.80,308.60 416.39,309.94 417.99,311.27 419.58,312.59 421.18,313.89 422.78,315.18 424.37,316.44 425.97,317.69 427.56,318.91 429.16,320.11 430.75,321.28 432.35,322.42" fill="none" stroke="#000" stroke-width="1.35"/>
<polyline points="338.20,265.36 339.80,267.27 341.39,269.15 342.99,270.98 344.58,272.79 346.18,274.56 347.77,276.29 349.37,277.99 350.97,279.66 352.56,281.30 354.16,282.90 355.75,284.47 357.35,286.00 358.94,287.50 360.54,288.98 362.14,290.42 363.73,291.82 365.33,293.20 366.92,294.55 368.52,295.86 370.12,297.15 371.71,298.40 373.31,299.62 374.90,300.82 376.50,301.98 378.09,303.11 379.69,304.22 381.29,305.30 382.88,306.34 384.48,307.36 386.07,308.35 387.67,309.32 389.26,310.25 390.86,311.16 392.46,312.04 394.05,312.89 395.65,313.72 397.24,314.52 398.84,315.29 400.43,316.04 402.03,316.76 403.63,317.46 405.22,318.13 406.82,318.77 408.41,319.39 410.01,319.99 411.61,320.56 413.20,321.11 414.80,321.63 416.39,322.13 417.99,322.61 419.58,323.07 421.18,323.50 422.78,323.90 424.37,324.29 425.97,324.65 427.56,324.99 429.16,325.31 430.75,325.61 432.35,325.89" fill="none" stroke="#000" stroke-width="1.35"/>
<line x1="338.20" y1="250.50" x2="338.20" y2="280.00" stroke="#1a1a1a" stroke-width="0.9" stroke-linecap="butt"/>
<line x1="336.10" y1="250.50" x2="340.30" y2="250.50" stroke="#1a1a1a" stroke-width="0.9" stroke-linecap="butt"/>
<line x1="336.10" y1="280.00" x2="340.30" y2="280.00" stroke="#1a1a1a" stroke-width="0.9" stroke-linecap="butt"/>
<line x1="378.55" y1="275.30" x2="378.55" y2="281.00" stroke="#1a1a1a" stroke-width="0.9" stroke-linecap="butt"/>
<line x1="377.05" y1="275.30" x2="380.05" y2="275.30" stroke="#1a1a1a" stroke-width="0.9" stroke-linecap="butt"/>
<line x1="377.05" y1="281.00" x2="380.05" y2="281.00" stroke="#1a1a1a" stroke-width="0.9" stroke-linecap="butt"/>
<line x1="378.55" y1="297.70" x2="378.55" y2="311.50" stroke="#1a1a1a" stroke-width="0.9" stroke-linecap="butt"/>
<line x1="376.95" y1="297.70" x2="380.15" y2="297.70" stroke="#1a1a1a" stroke-width="0.9" stroke-linecap="butt"/>
<line x1="376.95" y1="311.50" x2="380.15" y2="311.50" stroke="#1a1a1a" stroke-width="0.9" stroke-linecap="butt"/>
<circle cx="338.20" cy="265.40" r="2.4" fill="#fff" stroke="#000" stroke-width="1.0"/>
<circle cx="378.55" cy="278.10" r="2.4" fill="#fff" stroke="#000" stroke-width="1.0"/>
<circle cx="378.55" cy="304.20" r="2.6999999999999997" fill="#000"/>
<circle cx="432.35" cy="326.50" r="2.6999999999999997" fill="#000"/>
<circle cx="432.35" cy="323.10" r="2.4" fill="#fff" stroke="#000" stroke-width="1.0"/>
<text x="346.20" y="261.40" font-size="8.6" text-anchor="start" stroke="#000" stroke-width="0.32" fill="#000">Vehicle R<tspan font-size="6.2" dy="1.8">j</tspan><tspan dy="-1.8">~4.5d</tspan></text>
<text x="344.70" y="303.70" font-size="8.3" text-anchor="middle" stroke="#000" stroke-width="0.32" fill="#000">AT-RvD1</text>
<text x="344.60" y="314.80" font-size="8.5" text-anchor="middle" stroke="#000" stroke-width="0.32" fill="#000">R<tspan font-size="6.2" dy="1.8">j</tspan><tspan dy="-1.8">~2d</tspan></text>
<text x="-1.00" y="370.90" font-size="16.5" text-anchor="start" font-weight="bold" fill="#000">E</text>
<text x="43.40" y="366.40" font-size="8.3" text-anchor="start" stroke="#000" stroke-width="0.32" fill="#000">Intranasal</text>
<line x1="35.50" y1="370.75" x2="35.50" y2="459.10" stroke="#111" stroke-width="1.15" stroke-linecap="butt"/>
<line x1="35.00" y1="458.50" x2="94.60" y2="458.50" stroke="#111" stroke-width="1.15" stroke-linecap="butt"/>
<line x1="32.60" y1="458.55" x2="35.00" y2="458.55" stroke="#222" stroke-width="1.0" stroke-linecap="butt"/>
<text x="32.40" y="461.45" font-size="8.2" text-anchor="end" font-weight="bold" fill="#000">0</text>
<line x1="32.60" y1="436.60" x2="35.00" y2="436.60" stroke="#222" stroke-width="1.0" stroke-linecap="butt"/>
<text x="32.40" y="439.50" font-size="8.2" text-anchor="end" font-weight="bold" fill="#000">1</text>
<line x1="32.60" y1="414.65" x2="35.00" y2="414.65" stroke="#222" stroke-width="1.0" stroke-linecap="butt"/>
<text x="32.40" y="417.55" font-size="8.2" text-anchor="end" font-weight="bold" fill="#000">2</text>
<line x1="32.60" y1="392.70" x2="35.00" y2="392.70" stroke="#222" stroke-width="1.0" stroke-linecap="butt"/>
<text x="32.40" y="395.60" font-size="8.2" text-anchor="end" font-weight="bold" fill="#000">3</text>
<line x1="32.60" y1="370.75" x2="35.00" y2="370.75" stroke="#222" stroke-width="1.0" stroke-linecap="butt"/>
<text x="32.40" y="373.65" font-size="8.2" text-anchor="end" font-weight="bold" fill="#000">4</text>
<line x1="45.00" y1="399.72" x2="45.00" y2="391.60" stroke="#777" stroke-width="1.0" stroke-linecap="butt"/>
<line x1="41.80" y1="391.60" x2="48.20" y2="391.60" stroke="#777" stroke-width="1.0" stroke-linecap="butt"/>
<rect x="38.75" y="400.17" width="12.50" height="58.38" fill="#fff" stroke="#444" stroke-width="0.9"/>
<line x1="64.80" y1="401.26" x2="64.80" y2="390.50" stroke="#777" stroke-width="1.0" stroke-linecap="butt"/>
<line x1="61.60" y1="390.50" x2="68.00" y2="390.50" stroke="#777" stroke-width="1.0" stroke-linecap="butt"/>
<rect x="58.55" y="401.71" width="12.50" height="56.84" fill="#d0d0d0" stroke="#777" stroke-width="0.9"/>
<line x1="84.60" y1="408.06" x2="84.60" y2="399.50" stroke="#777" stroke-width="1.0" stroke-linecap="butt"/>
<line x1="81.40" y1="399.50" x2="87.80" y2="399.50" stroke="#777" stroke-width="1.0" stroke-linecap="butt"/>
<rect x="77.90" y="408.06" width="13.40" height="50.49" fill="#000" stroke="none" stroke-width="0"/>
<text x="41.30" y="467.60" font-size="8.2" text-anchor="start" stroke="#000" stroke-width="0.32" fill="#000">V</text>
<text x="54.40" y="467.60" font-size="8.2" text-anchor="start" stroke="#000" stroke-width="0.32" fill="#000">RvD1</text>
<text x="76.60" y="467.60" font-size="8.2" text-anchor="start" stroke="#000" stroke-width="0.32" fill="#000">AT-RvD1</text>
<line x1="31.90" y1="472.60" x2="110.40" y2="472.60" stroke="#777" stroke-width="1.1" stroke-linecap="butt"/>
<text x="69.90" y="482.00" font-size="8.4" text-anchor="middle" stroke="#000" stroke-width="0.32" fill="#000">d21</text>
<text x="0" y="0" font-size="8.5" text-anchor="middle" stroke="#000" stroke-width="0.28" transform="translate(20.40 416.30) rotate(-90) scale(1 0.86)">BALF cells (10<tspan font-size="6.29" dy="-3.57">6</tspan><tspan dy="3.57">/ml)</tspan></text>
<line x1="177.50" y1="369.30" x2="177.50" y2="457.10" stroke="#111" stroke-width="1.15" stroke-linecap="butt"/>
<line x1="177.00" y1="456.50" x2="236.00" y2="456.50" stroke="#111" stroke-width="1.15" stroke-linecap="butt"/>
<line x1="174.80" y1="456.80" x2="177.20" y2="456.80" stroke="#222" stroke-width="1.0" stroke-linecap="butt"/>
<text x="174.60" y="459.70" font-size="8.2" text-anchor="end" font-weight="bold" fill="#000">0.0</text>
<line x1="174.80" y1="439.30" x2="177.20" y2="439.30" stroke="#222" stroke-width="1.0" stroke-linecap="butt"/>
<text x="174.60" y="442.20" font-size="8.2" text-anchor="end" font-weight="bold" fill="#000">0.5</text>
<line x1="174.80" y1="421.80" x2="177.20" y2="421.80" stroke="#222" stroke-width="1.0" stroke-linecap="butt"/>
<text x="174.60" y="424.70" font-size="8.2" text-anchor="end" font-weight="bold" fill="#000">1.0</text>
<line x1="174.80" y1="404.30" x2="177.20" y2="404.30" stroke="#222" stroke-width="1.0" stroke-linecap="butt"/>
<text x="174.60" y="407.20" font-size="8.2" text-anchor="end" font-weight="bold" fill="#000">1.5</text>
<line x1="174.80" y1="386.80" x2="177.20" y2="386.80" stroke="#222" stroke-width="1.0" stroke-linecap="butt"/>
<text x="174.60" y="389.70" font-size="8.2" text-anchor="end" font-weight="bold" fill="#000">2.0</text>
<line x1="174.80" y1="369.30" x2="177.20" y2="369.30" stroke="#222" stroke-width="1.0" stroke-linecap="butt"/>
<text x="174.60" y="372.20" font-size="8.2" text-anchor="end" font-weight="bold" fill="#000">2.5</text>
<line x1="187.00" y1="391.81" x2="187.00" y2="382.36" stroke="#777" stroke-width="1.0" stroke-linecap="butt"/>
<line x1="183.80" y1="382.36" x2="190.20" y2="382.36" stroke="#777" stroke-width="1.0" stroke-linecap="butt"/>
<rect x="180.75" y="392.25" width="12.50" height="64.55" fill="#fff" stroke="#444" stroke-width="0.9"/>
<line x1="205.90" y1="401.85" x2="205.90" y2="387.50" stroke="#777" stroke-width="1.0" stroke-linecap="butt"/>
<line x1="202.70" y1="387.50" x2="209.10" y2="387.50" stroke="#777" stroke-width="1.0" stroke-linecap="butt"/>
<rect x="199.65" y="402.30" width="12.50" height="54.50" fill="#d0d0d0" stroke="#777" stroke-width="0.9"/>
<line x1="225.50" y1="428.45" x2="225.50" y2="422.85" stroke="#777" stroke-width="1.0" stroke-linecap="butt"/>
<line x1="222.30" y1="422.85" x2="228.70" y2="422.85" stroke="#777" stroke-width="1.0" stroke-linecap="butt"/>
<rect x="218.80" y="428.45" width="13.40" height="28.35" fill="#000" stroke="none" stroke-width="0"/>
<text x="183.30" y="467.60" font-size="8.2" text-anchor="start" stroke="#000" stroke-width="0.32" fill="#000">V</text>
<text x="195.60" y="467.60" font-size="8.2" text-anchor="start" stroke="#000" stroke-width="0.32" fill="#000">RvD1</text>
<text x="217.90" y="467.60" font-size="8.2" text-anchor="start" stroke="#000" stroke-width="0.32" fill="#000">AT-RvD1</text>
<line x1="172.60" y1="472.60" x2="251.30" y2="472.60" stroke="#777" stroke-width="1.1" stroke-linecap="butt"/>
<text x="211.20" y="482.00" font-size="8.4" text-anchor="middle" stroke="#000" stroke-width="0.32" fill="#000">d21</text>
<polygon points="225.60,415.00 226.39,417.11 228.64,417.21 226.88,418.62 227.48,420.79 225.60,419.54 223.72,420.79 224.32,418.62 222.56,417.21 224.81,417.11" fill="#000"/>
<text x="0" y="0" font-size="8.5" text-anchor="middle" stroke="#000" stroke-width="0.28" transform="translate(159.50 417.00) rotate(-90) scale(1 0.86)">Eosinophils (10<tspan font-size="6.29" dy="-3.57">6</tspan><tspan dy="3.57">/ml)</tspan></text>
<line x1="315.50" y1="368.30" x2="315.50" y2="458.10" stroke="#111" stroke-width="1.15" stroke-linecap="butt"/>
<line x1="315.00" y1="457.50" x2="374.00" y2="457.50" stroke="#111" stroke-width="1.15" stroke-linecap="butt"/>
<line x1="312.70" y1="457.40" x2="315.10" y2="457.40" stroke="#222" stroke-width="1.0" stroke-linecap="butt"/>
<text x="312.50" y="460.30" font-size="8.2" text-anchor="end" font-weight="bold" fill="#000">0.0</text>
<line x1="312.70" y1="427.70" x2="315.10" y2="427.70" stroke="#222" stroke-width="1.0" stroke-linecap="butt"/>
<text x="312.50" y="430.60" font-size="8.2" text-anchor="end" font-weight="bold" fill="#000">0.5</text>
<line x1="312.70" y1="398.00" x2="315.10" y2="398.00" stroke="#222" stroke-width="1.0" stroke-linecap="butt"/>
<text x="312.50" y="400.90" font-size="8.2" text-anchor="end" font-weight="bold" fill="#000">1.0</text>
<line x1="312.70" y1="368.30" x2="315.10" y2="368.30" stroke="#222" stroke-width="1.0" stroke-linecap="butt"/>
<text x="312.50" y="371.20" font-size="8.2" text-anchor="end" font-weight="bold" fill="#000">1.5</text>
<line x1="325.00" y1="417.48" x2="325.00" y2="408.81" stroke="#777" stroke-width="1.0" stroke-linecap="butt"/>
<line x1="321.80" y1="408.81" x2="328.20" y2="408.81" stroke="#777" stroke-width="1.0" stroke-linecap="butt"/>
<rect x="318.75" y="417.93" width="12.50" height="39.47" fill="#fff" stroke="#444" stroke-width="0.9"/>
<line x1="344.00" y1="408.22" x2="344.00" y2="402.28" stroke="#777" stroke-width="1.0" stroke-linecap="butt"/>
<line x1="340.80" y1="402.28" x2="347.20" y2="402.28" stroke="#777" stroke-width="1.0" stroke-linecap="butt"/>
<rect x="337.75" y="408.67" width="12.50" height="48.73" fill="#d0d0d0" stroke="#777" stroke-width="0.9"/>
<line x1="363.80" y1="391.47" x2="363.80" y2="380.48" stroke="#777" stroke-width="1.0" stroke-linecap="butt"/>
<line x1="360.60" y1="380.48" x2="367.00" y2="380.48" stroke="#777" stroke-width="1.0" stroke-linecap="butt"/>
<rect x="357.10" y="391.47" width="13.40" height="65.93" fill="#000" stroke="none" stroke-width="0"/>
<text x="322.60" y="467.60" font-size="8.2" text-anchor="start" stroke="#000" stroke-width="0.32" fill="#000">V</text>
<text x="335.80" y="467.60" font-size="8.2" text-anchor="start" stroke="#000" stroke-width="0.32" fill="#000">RvD1</text>
<text x="358.80" y="467.60" font-size="8.2" text-anchor="start" stroke="#000" stroke-width="0.32" fill="#000">AT-RvD1</text>
<line x1="313.80" y1="471.80" x2="391.50" y2="471.80" stroke="#777" stroke-width="1.1" stroke-linecap="butt"/>
<text x="350.80" y="482.00" font-size="8.4" text-anchor="middle" stroke="#000" stroke-width="0.32" fill="#000">d21</text>
<text x="0" y="0" font-size="8.5" text-anchor="middle" stroke="#000" stroke-width="0.28" transform="translate(298.30 414.90) rotate(-90) scale(1 0.86)">Macrophages (10<tspan font-size="6.29" dy="-3.57">6</tspan><tspan dy="3.57">/ml)</tspan></text>
<line x1="435.50" y1="367.30" x2="435.50" y2="458.10" stroke="#111" stroke-width="1.15" stroke-linecap="butt"/>
<line x1="435.00" y1="457.50" x2="494.00" y2="457.50" stroke="#111" stroke-width="1.15" stroke-linecap="butt"/>
<line x1="433.20" y1="457.20" x2="435.60" y2="457.20" stroke="#222" stroke-width="1.0" stroke-linecap="butt"/>
<text x="433.00" y="460.10" font-size="8.2" text-anchor="end" font-weight="bold" fill="#000">0.0</text>
<line x1="433.20" y1="439.22" x2="435.60" y2="439.22" stroke="#222" stroke-width="1.0" stroke-linecap="butt"/>
<text x="433.00" y="442.12" font-size="8.2" text-anchor="end" font-weight="bold" fill="#000">0.1</text>
<line x1="433.20" y1="421.24" x2="435.60" y2="421.24" stroke="#222" stroke-width="1.0" stroke-linecap="butt"/>
<text x="433.00" y="424.14" font-size="8.2" text-anchor="end" font-weight="bold" fill="#000">0.2</text>
<line x1="433.20" y1="403.26" x2="435.60" y2="403.26" stroke="#222" stroke-width="1.0" stroke-linecap="butt"/>
<text x="433.00" y="406.16" font-size="8.2" text-anchor="end" font-weight="bold" fill="#000">0.3</text>
<line x1="433.20" y1="385.28" x2="435.60" y2="385.28" stroke="#222" stroke-width="1.0" stroke-linecap="butt"/>
<text x="433.00" y="388.18" font-size="8.2" text-anchor="end" font-weight="bold" fill="#000">0.4</text>
<line x1="433.20" y1="367.30" x2="435.60" y2="367.30" stroke="#222" stroke-width="1.0" stroke-linecap="butt"/>
<text x="433.00" y="370.20" font-size="8.2" text-anchor="end" font-weight="bold" fill="#000">0.5</text>
<line x1="445.30" y1="424.12" x2="445.30" y2="412.07" stroke="#777" stroke-width="1.0" stroke-linecap="butt"/>
<line x1="442.10" y1="412.07" x2="448.50" y2="412.07" stroke="#777" stroke-width="1.0" stroke-linecap="butt"/>
<rect x="439.05" y="424.57" width="12.50" height="32.63" fill="#fff" stroke="#444" stroke-width="0.9"/>
<line x1="465.00" y1="413.87" x2="465.00" y2="397.51" stroke="#777" stroke-width="1.0" stroke-linecap="butt"/>
<line x1="461.80" y1="397.51" x2="468.20" y2="397.51" stroke="#777" stroke-width="1.0" stroke-linecap="butt"/>
<rect x="458.75" y="414.32" width="12.50" height="42.88" fill="#d0d0d0" stroke="#777" stroke-width="0.9"/>
<line x1="484.50" y1="392.83" x2="484.50" y2="373.23" stroke="#777" stroke-width="1.0" stroke-linecap="butt"/>
<line x1="481.30" y1="373.23" x2="487.70" y2="373.23" stroke="#777" stroke-width="1.0" stroke-linecap="butt"/>
<rect x="477.80" y="392.83" width="13.40" height="64.37" fill="#000" stroke="none" stroke-width="0"/>
<text x="442.10" y="467.60" font-size="8.2" text-anchor="start" stroke="#000" stroke-width="0.32" fill="#000">V</text>
<text x="456.50" y="467.60" font-size="8.2" text-anchor="start" stroke="#000" stroke-width="0.32" fill="#000">RvD1</text>
<text x="480.00" y="467.60" font-size="8.2" text-anchor="start" stroke="#000" stroke-width="0.32" fill="#000">AT-RvD1</text>
<line x1="427.90" y1="471.80" x2="505.40" y2="471.80" stroke="#777" stroke-width="1.1" stroke-linecap="butt"/>
<text x="471.70" y="482.00" font-size="8.4" text-anchor="middle" stroke="#000" stroke-width="0.32" fill="#000">d21</text>
<text x="0" y="0" font-size="8.5" text-anchor="middle" stroke="#000" stroke-width="0.28" transform="translate(419.10 412.00) rotate(-90) scale(1 0.86)">Lymphocytes (10<tspan font-size="6.29" dy="-3.57">6</tspan><tspan dy="3.57">/ml)</tspan></text>
</svg>
</body></html>
